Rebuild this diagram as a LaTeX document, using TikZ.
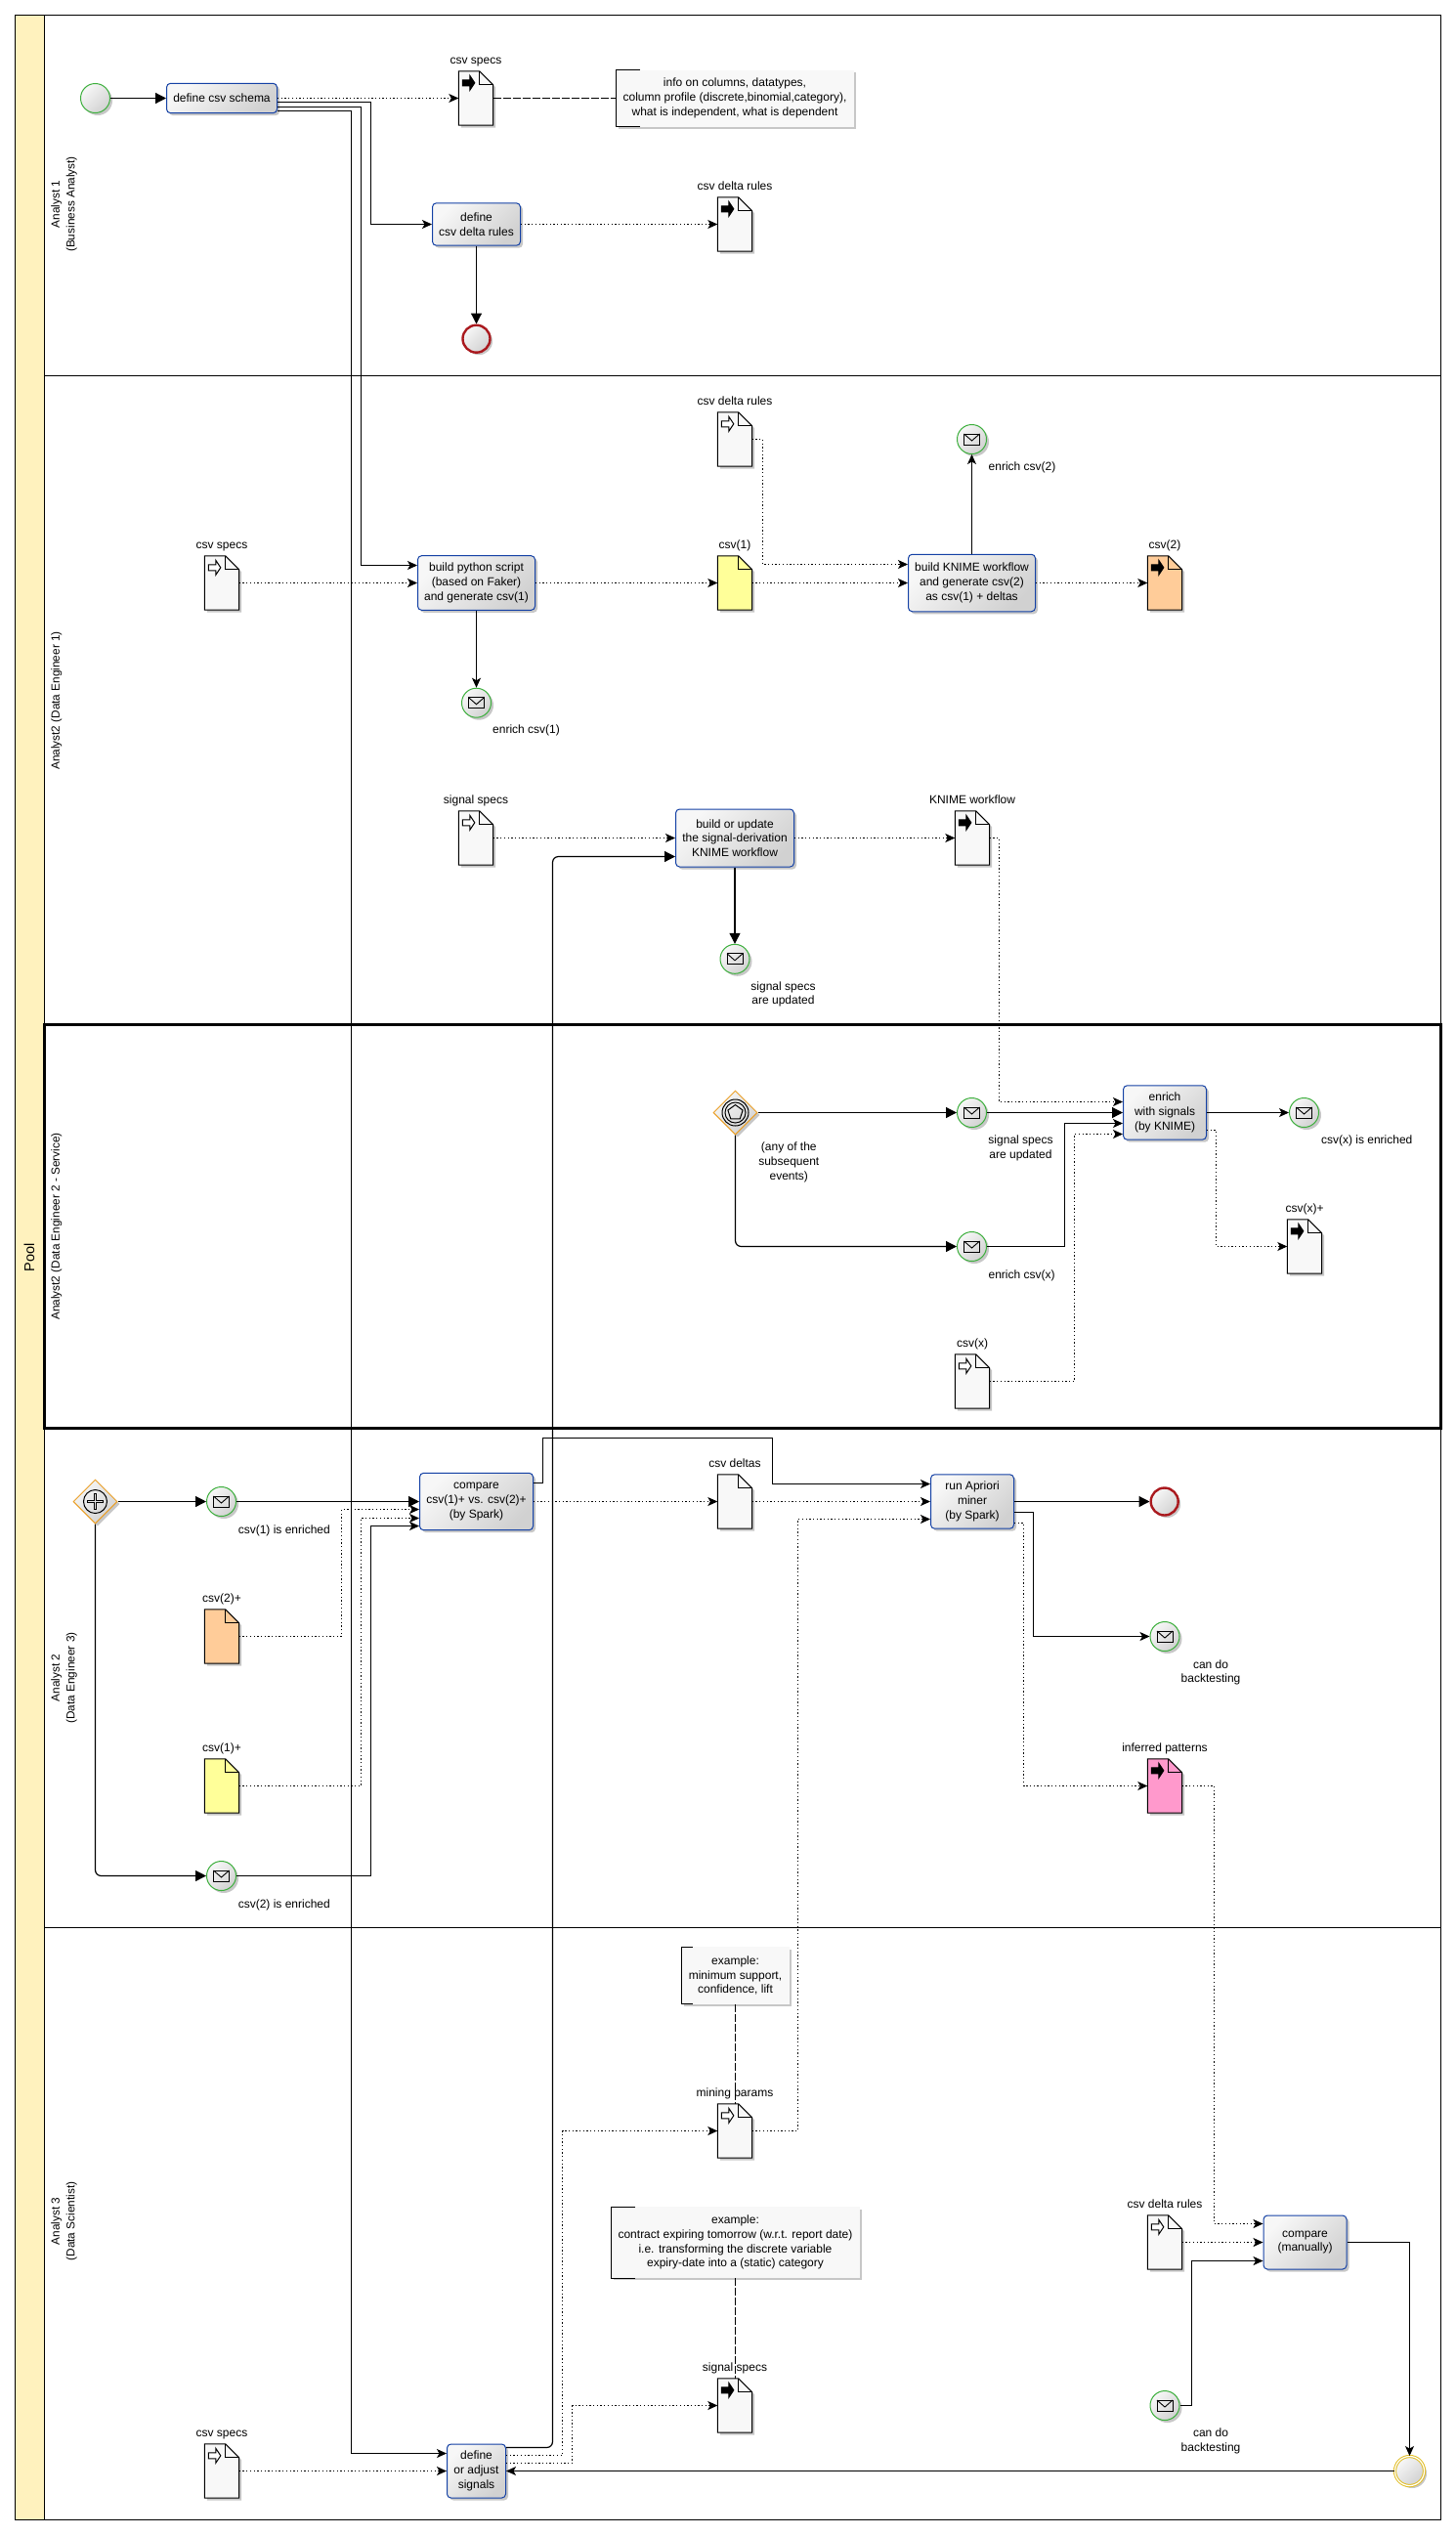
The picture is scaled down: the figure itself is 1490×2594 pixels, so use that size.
\documentclass[tikz,border=0pt]{standalone}
\usepackage{fontspec}
\setmainfont{Liberation Sans}
\usetikzlibrary{arrows.meta,shapes.geometric,shadows}

\definecolor{poolband}{RGB}{255,242,190}
\definecolor{taskline}{RGB}{20,65,165}
\definecolor{startline}{RGB}{60,175,60}
\definecolor{endline}{RGB}{170,25,30}
\definecolor{gateline}{RGB}{235,160,40}
\definecolor{haltline}{RGB}{225,190,40}
\definecolor{docplain}{RGB}{248,248,248}
\definecolor{docyellow}{RGB}{255,255,153}
\definecolor{docorange}{RGB}{255,204,153}
\definecolor{docpink}{RGB}{255,153,204}

% data object: name, x, y, fill, label
\newcommand{\dataobj}[5]{
\node[docnode] (#1) at (#2,#3) {};
\draw[docedge,softshadow,fill=#4] (#1.north west) -- ([xshift=-14pt]#1.north east) -- ([yshift=-14pt]#1.north east) -- (#1.south east) -- (#1.south west) -- cycle;
\draw[docedge] ([xshift=-14pt]#1.north east) -- ([xshift=-14pt,yshift=-14pt]#1.north east) -- ([yshift=-14pt]#1.north east);
\node[lbl,anchor=base] (#1label) at ([yshift=7.5pt]#1.north) {#5};
}
% small arrow in the corner of a data object: name, fill
\newcommand{\dataicon}[2]{
\draw[docedge,fill=#2] ([shift={(4,9)}]#1.north west) -- ++(7.5,0) -- ++(0,-4.5) -- ++(5,7.5) -- ++(-5,7.5) -- ++(0,-4.5) -- ++(-7.5,0) -- cycle;
}
% open bracket on the left of an annotation: name, bracket length
\newcommand{\notebracket}[2]{
\draw[docedge] ([xshift=#2pt]#1.north west) -- (#1.north west) -- (#1.south west) -- ([xshift=#2pt]#1.south west);
}

\begin{document}
\begin{tikzpicture}[x=1pt,y=-1pt]
\tikzset{softshadow/.style = {drop shadow={shadow xshift=2.5pt,shadow yshift=-2.5pt,opacity=.22,fill=black}}}
\tikzset{lbl/.style = {font=\fontsize{12}{14.7}\selectfont,align=center,inner sep=0pt}}
\tikzset{lanelabel/.style = {font=\fontsize{11.8}{15.5}\selectfont,align=center,inner sep=0pt,rotate=90}}
\tikzset{metal/.style = {top color=white!97!black,bottom color=white!82!black,shading angle=45}}
\tikzset{task/.style = {lbl,rectangle,rounded corners=4pt,draw=taskline,line width=1pt,metal,softshadow}}
\tikzset{docnode/.style = {rectangle,minimum width=35pt,minimum height=55pt,inner sep=0pt}}
\tikzset{docedge/.style = {draw=black,line width=1pt}}
\tikzset{notebox/.style = {lbl,rectangle,fill=docplain,softshadow}}
\tikzset{event/.style = {circle,minimum size=30pt,inner sep=0pt,metal,softshadow}}
\tikzset{startev/.style = {event,draw=startline,line width=1pt}}
\tikzset{endev/.style = {event,minimum size=28pt,draw=endline,line width=2.4pt}}
\tikzset{haltev/.style = {event,draw=haltline,line width=1pt,double=white,double distance=1.2pt}}
\tikzset{mailev/.style = {startev,path picture={
\begin{scope}[shift={(path picture bounding box.center)}]
\draw[black,line width=.9pt] (-8,-5.5) rectangle (8,5.5);
\draw[black,line width=.9pt] (-8,-5.5) -- (0,1.5) -- (8,-5.5);
\end{scope}}}}
\tikzset{gate/.style = {diamond,minimum width=45pt,minimum height=45pt,inner sep=0pt,draw=gateline,line width=1pt,metal,softshadow}}
\tikzset{eventgate/.style = {gate,path picture={
\begin{scope}[shift={(path picture bounding box.center)}]
\draw[black,line width=1pt] (0,0) circle [radius=13.5];
\draw[black,line width=1pt] (0,0) circle [radius=10.5];
\draw[black,line width=1pt] (90:8pt) -- (162:8pt) -- (234:8pt) -- (306:8pt) -- (18:8pt) -- cycle;
\end{scope}}}}
\tikzset{plusgate/.style = {gate,path picture={
\begin{scope}[shift={(path picture bounding box.center)}]
\draw[black,line width=1pt] (0,0) circle [radius=12];
\draw[black,line width=1.1pt] (-8,-1) -- (-1,-1) -- (-1,-8) -- (1,-8) -- (1,-1) -- (8,-1) -- (8,1) -- (1,1) -- (1,8) -- (-1,8) -- (-1,1) -- (-8,1) -- cycle;
\end{scope}}}}
\tikzset{flow/.style = {-{Stealth[length=10pt,width=9pt,inset=2.5pt]},line width=1pt}}
\tikzset{bigflow/.style = {-{Triangle[length=11pt,width=11pt]},line width=1.2pt}}
\tikzset{dataflow/.style = {-{Stealth[length=10pt,width=9pt,inset=2.5pt]},line width=1.1pt,dash pattern=on 1.3pt off 2.4pt}}
\tikzset{assoc/.style = {line width=1pt,dash pattern=on 8pt off 2pt}}

\useasboundingbox (0,0) rectangle (1490,2594);

% pool and lanes
\draw[line width=1pt,fill=white] (15.5,15.5) rectangle (1474.5,2578.5);
\draw[line width=1pt,fill=poolband] (15.5,15.5) rectangle (45.5,2578.5);
\draw[line width=1pt] (45.5,384.5) -- (1474.5,384.5);
\draw[line width=1pt] (45.5,1972.5) -- (1474.5,1972.5);
\draw[line width=3pt] (45.5,1048.5) rectangle (1474.5,1461.5);
\node[lanelabel,font=\fontsize{14.5}{16}\selectfont] (pooltitle) at (30,1287) {Pool};
\node[lanelabel] (laneA) at (65.5,209) {Analyst 1\\(Business Analyst)};
\node[lanelabel] (laneB) at (57.7,717) {Analyst2 (Data Engineer 1)};
\node[lanelabel] (laneC) at (57.7,1255) {Analyst2 (Data Engineer 2 - Service)};
\node[lanelabel] (laneD) at (65.5,1717) {Analyst 2\\(Data Engineer 3)};
\node[lanelabel] (laneE) at (65.5,2273) {Analyst 3\\(Data Scientist)};

% tasks
\node[task,minimum width=113pt,minimum height=30.4pt] (schema) at (227,100.5) {define csv schema};
\node[task,minimum width=90pt,minimum height=43.4pt] (rules) at (487.5,229.5) {define\\csv delta rules};
\node[task,minimum width=120pt,minimum height=55.7pt] (python) at (487.5,596.5) {build python script\\(based on Faker)\\and generate csv(1)};
\node[task,minimum width=130pt,minimum height=58.5pt] (knime) at (994.5,596.5) {build KNIME workflow\\and generate csv(2)\\as csv(1) + deltas};
\node[task,minimum width=121pt,minimum height=59pt] (update) at (752,857.5) {build or update\\the signal-derivation\\KNIME workflow};
\node[task,minimum width=85pt,minimum height=55.4pt] (enrich) at (1192,1138.5) {enrich\\with signals\\(by KNIME)};
\node[task,minimum width=116pt,minimum height=58.4pt] (compare) at (487.5,1536.5) {compare\\csv(1)+ vs. csv(2)+\\(by Spark)};
\node[task,minimum width=85pt,minimum height=55.4pt] (apriori) at (995,1536.5) {run Apriori\\miner\\(by Spark)};
\node[task,minimum width=60pt,minimum height=55pt] (adjust) at (487.5,2528.5) {define\\or adjust\\signals};
\node[task,minimum width=85pt,minimum height=55pt] (manual) at (1335.5,2294.5) {compare\\(manually)};

% events and gateways
\node[startev] (start) at (97.5,100.5) {};
\node[endev] (endA) at (487.5,346.7) {};
\node[endev] (endB) at (1191.7,1536.5) {};
\node[haltev] (endC) at (1442.5,2528.5) {};
\node[mailev] (mailA) at (487.5,719.2) {};
\node[lbl] (mailAlabel) at (538.5,747.8) {enrich csv(1)};
\node[mailev] (mailB) at (994.5,449.5) {};
\node[lbl] (mailBlabel) at (1046,478.8) {enrich csv(2)};
\node[mailev] (mailC) at (752,981.3) {};
\node[lbl] (mailClabel) at (801.5,1017.5) {signal specs\\are updated};
\node[eventgate] (gateA) at (752.5,1138.5) {};
\node[lbl] (gateAlabel) at (807.3,1189.5) {(any of the\\subsequent\\events)};
\node[mailev] (mailD) at (994.5,1138.5) {};
\node[lbl] (mailDlabel) at (1044.5,1175) {signal specs\\are updated};
\node[mailev] (mailE) at (994.5,1275.5) {};
\node[lbl] (mailElabel) at (1045.6,1305) {enrich csv(x)};
\node[mailev] (mailF) at (1334.5,1138.5) {};
\node[lbl] (mailFlabel) at (1398.7,1167) {csv(x) is enriched};
\node[plusgate] (gateB) at (97.5,1536.5) {};
\node[mailev] (mailG) at (226.5,1536.5) {};
\node[lbl] (mailGlabel) at (290.8,1566) {csv(1) is enriched};
\node[mailev] (mailH) at (226.5,1919.5) {};
\node[lbl] (mailHlabel) at (290.8,1949) {csv(2) is enriched};
\node[mailev] (mailI) at (1192,1674.5) {};
\node[lbl] (mailIlabel) at (1239,1711.3) {can do\\backtesting};
\node[mailev] (mailJ) at (1192,2461.5) {};
\node[lbl] (mailJlabel) at (1239,2497.8) {can do\\backtesting};

% data objects
\dataobj{csvspecA}{487}{100.5}{docplain}{csv specs}
\dataicon{csvspecA}{black}
\dataobj{rulesdocA}{752}{229.5}{docplain}{csv delta rules}
\dataicon{rulesdocA}{black}
\dataobj{rulesdocB}{752}{449.5}{docplain}{csv delta rules}
\dataicon{rulesdocB}{white}
\dataobj{csvspecB}{227}{596.5}{docplain}{csv specs}
\dataicon{csvspecB}{white}
\dataobj{csvone}{752}{596.5}{docyellow}{csv(1)}
\dataobj{csvtwo}{1192}{596.5}{docorange}{csv(2)}
\dataicon{csvtwo}{black}
\dataobj{sigdocA}{487}{857.5}{docplain}{signal specs}
\dataicon{sigdocA}{white}
\dataobj{knimedoc}{995}{857.5}{docplain}{KNIME workflow}
\dataicon{knimedoc}{black}
\dataobj{csvxdoc}{995}{1413.5}{docplain}{csv(x)}
\dataicon{csvxdoc}{white}
\dataobj{csvxplus}{1335}{1275.5}{docplain}{csv(x)+}
\dataicon{csvxplus}{black}
\dataobj{csvtwoplus}{227}{1674.5}{docorange}{csv(2)+}
\dataobj{csvoneplus}{227}{1827.5}{docyellow}{csv(1)+}
\dataobj{deltas}{752}{1536.5}{docplain}{csv deltas}
\dataobj{patterns}{1192}{1827.5}{docpink}{inferred patterns}
\dataicon{patterns}{black}
\dataobj{mining}{752}{2180.5}{docplain}{mining params}
\dataicon{mining}{white}
\dataobj{sigdocB}{752}{2461.5}{docplain}{signal specs}
\dataicon{sigdocB}{black}
\dataobj{rulesdocC}{1192}{2294.5}{docplain}{csv delta rules}
\dataicon{rulesdocC}{white}
\dataobj{csvspecC}{227}{2528.5}{docplain}{csv specs}
\dataicon{csvspecC}{white}

% annotations
\node[notebox,minimum width=243.4pt,minimum height=58pt] (noteinfo) at (752,100.5) {info on columns, datatypes,\\column profile (discrete,binomial,category),\\what is independent, what is dependent};
\notebracket{noteinfo}{25}
\node[notebox,minimum width=110.3pt,minimum height=58.3pt] (notemin) at (752.5,2021.5) {example:\\minimum support,\\confidence, lift};
\notebracket{notemin}{11.4}
\node[notebox,minimum width=254.2pt,minimum height=72.4pt] (notesig) at (752.5,2294.6) {example:\\contract expiring tomorrow (w.r.t. report date)\\i.e. transforming the discrete variable\\expiry-date into a (static) category};
\notebracket{notesig}{25}

% edges, first lane
\draw[bigflow] (start) -- (schema);
\draw[dataflow] (schema) -- (csvspecA.west);
\draw[assoc] (csvspecA.east) -- (noteinfo.west);
\draw[flow] ([yshift=-4pt]schema.east) -| (379.5,229.5) -- (rules.west);
\draw[flow] ([yshift=-9pt]schema.east) -| (369.5,578.5) -- ([yshift=18pt]python.west);
\draw[flow] ([yshift=-13pt]schema.east) -| (359.5,2510.5) -- ([yshift=18pt]adjust.west);
\draw[dataflow] (rules.east) -- (rulesdocA.west);
\draw[bigflow] (rules.south) -- (endA.north);

% edges, second lane
\draw[dataflow] (csvspecB.east) -- (python.west);
\draw[dataflow] (python.east) -- (csvone.west);
\draw[dataflow] (csvone.east) -- (knime.west);
\draw[dataflow] (rulesdocB.east) -| (780.5,577.5) -- ([yshift=19pt]knime.west);
\draw[dataflow] (knime.east) -- (csvtwo.west);
\draw[flow] (knime.north) -- (mailB.south);
\draw[flow] (python.south) -- (mailA.north);
\draw[dataflow] (sigdocA.east) -- (update.west);
\draw[bigflow] (update.south) -- (mailC.north);
\draw[dataflow] (update.east) -- (knimedoc.west);
\draw[bigflow,rounded corners=6pt] ([yshift=24pt]adjust.east) -| (565.5,876.5) -- ([yshift=-19pt]update.west);

% edges, service lane
\draw[bigflow] (gateA.east) -- (mailD.west);
\draw[bigflow,rounded corners=6pt] (gateA.south) |- (mailE.west);
\draw[bigflow] (mailD.east) -- (enrich.west);
\draw[flow] (mailE.east) -| (1089.5,1149.5) -- ([yshift=-11pt]enrich.west);
\draw[dataflow] (knimedoc.east) -| (1022.5,1127.5) -- ([yshift=11pt]enrich.west);
\draw[dataflow] (csvxdoc.east) -| (1099.5,1160.5) -- ([yshift=-22pt]enrich.west);
\draw[flow] (enrich.east) -- (mailF.west);
\draw[dataflow] ([yshift=-18pt]enrich.east) -| (1244.5,1275.5) -- (csvxplus.west);

% edges, fourth lane
\draw[bigflow] (gateB.east) -- (mailG.west);
\draw[bigflow,rounded corners=6pt] (gateB.south) |- (mailH.west);
\draw[bigflow] (mailG.east) -- (compare.west);
\draw[dataflow] (csvtwoplus.east) -| (349.5,1544.5) -- ([yshift=-8pt]compare.west);
\draw[dataflow] (csvoneplus.east) -| (369.5,1553.5) -- ([yshift=-17pt]compare.west);
\draw[flow] (mailH.east) -| (379.5,1561.5) -- ([yshift=-25pt]compare.west);
\draw[dataflow] (compare.east) -- (deltas.west);
\draw[dataflow] (deltas.east) -- (apriori.west);
\draw[flow] ([yshift=19pt]compare.east) -| (555.5,1471.5) -| (790.5,1518.5) -- ([yshift=18pt]apriori.west);
\draw[bigflow] (apriori.east) -- (endB.west);
\draw[flow] ([yshift=-11pt]apriori.east) -| (1057.5,1674.5) -- (mailI.west);
\draw[dataflow] ([yshift=-22pt]apriori.east) -| (1047.5,1827.5) -- (patterns.west);
\draw[dataflow] (patterns.east) -| (1242.5,2275.5) -- ([yshift=19pt]manual.west);
\draw[dataflow] (mining.east) -| (816.5,1554.5) -- ([yshift=-18pt]apriori.west);

% edges, last lane
\draw[dataflow] (csvspecC.east) -- (adjust.west);
\draw[dataflow] ([yshift=16pt]adjust.east) -| (575.5,2180.5) -- (mining.west);
\draw[dataflow] ([yshift=8pt]adjust.east) -| (585.5,2461.5) -- (sigdocB.west);
\draw[flow] (endC.west) -- (adjust.east);
\draw[dataflow] (rulesdocC.east) -- (manual.west);
\draw[flow] (mailJ.east) -| (1219.5,2313.5) -- ([yshift=-19pt]manual.west);
\draw[flow] (manual.east) -| (endC.north);
\draw[assoc] (notemin.south) -- (notemin.south |- mining.north);
\draw[assoc] (notesig.south) -- (notesig.south |- sigdocB.north);
\end{tikzpicture}
\end{document}
